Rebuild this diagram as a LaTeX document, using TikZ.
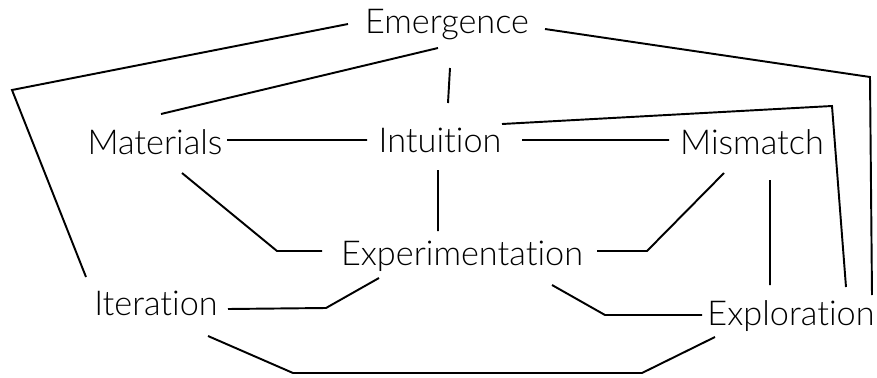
\documentclass[tikz,border=0pt]{standalone}
\usepackage{fontspec}
\setmainfont{Lato Light}[Ligatures=NoCommon]
\usepackage{tikz}

\begin{document}
\begin{tikzpicture}
    \tikzstyle{edge} = [line width=1.1pt, draw=black, line join=miter]
    \tikzstyle{word} = [
      anchor=base,
      inner sep=0pt,
      font=\fontsize{19.5}{23}\selectfont,
    ]

    \coordinate (topAnchor) at (0,0);
    \useasboundingbox (topAnchor) rectangle ([xshift=17.54cm, yshift=-7.56cm] topAnchor);

    % concepts
    {
      \node[word] (emergence) at ([xshift=8.94cm, yshift=-0.67cm] topAnchor) {Emergence};

      \node[word] (materials) at ([xshift=3.10cm, yshift=-3.08cm] topAnchor) {Materials};
      \node[word] (intuition) at ([xshift=8.80cm, yshift=-3.04cm] topAnchor) {Intuition};
      \node[word] (mismatch) at ([xshift=15.04cm, yshift=-3.08cm] topAnchor) {Mismatch};

      \node[word] (experimentation) at ([xshift=9.24cm, yshift=-5.30cm] topAnchor) {Experimentation};

      \node[word] (iteration) at ([xshift=3.12cm, yshift=-6.30cm] topAnchor) {Iteration};
      \node[word] (exploration) at ([xshift=15.82cm, yshift=-6.50cm] topAnchor) {Exploration};
    }

    % corners of the bent links
    {
      \coordinate (leftCorner) at ([xshift=0.24cm, yshift=-1.80cm] topAnchor);
      \coordinate (rightCorner) at ([xshift=17.40cm, yshift=-1.54cm] topAnchor);
      \coordinate (innerCorner) at ([xshift=16.64cm, yshift=-2.12cm] topAnchor);

      \coordinate (matBend) at ([xshift=5.54cm, yshift=-5.02cm] topAnchor);
      \coordinate (misBend) at ([xshift=12.94cm, yshift=-5.02cm] topAnchor);
      \coordinate (iterBend) at ([xshift=6.52cm, yshift=-6.16cm] topAnchor);
      \coordinate (explBend) at ([xshift=12.10cm, yshift=-6.30cm] topAnchor);

      \coordinate (bottomLeft) at ([xshift=5.86cm, yshift=-7.46cm] topAnchor);
      \coordinate (bottomRight) at ([xshift=12.84cm, yshift=-7.46cm] topAnchor);
    }

    % links from emergence
    {
      \draw[edge] ([xshift=-1.98cm, yshift=0.19cm] emergence.base) -- (leftCorner) -- ([xshift=-1.40cm, yshift=0.76cm] iteration.base);
      \draw[edge] ([xshift=-0.18cm, yshift=-0.29cm] emergence.base) -- ([xshift=0.12cm, yshift=0.80cm] materials.base);
      \draw[edge] ([xshift=0.06cm, yshift=-0.69cm] emergence.base) -- ([xshift=0.16cm, yshift=0.98cm] intuition.base);
      \draw[edge] ([xshift=1.96cm, yshift=0.09cm] emergence.base) -- (rightCorner) -- ([xshift=1.62cm, yshift=0.60cm] exploration.base);
    }

    % middle row
    {
      \draw[edge] ([xshift=1.44cm, yshift=0.28cm] materials.base) -- ([xshift=-1.46cm, yshift=0.24cm] intuition.base);
      \draw[edge] ([xshift=1.64cm, yshift=0.24cm] intuition.base) -- ([xshift=-1.66cm, yshift=0.28cm] mismatch.base);
      \draw[edge] ([xshift=1.24cm, yshift=0.56cm] intuition.base) -- (innerCorner) -- ([xshift=1.10cm, yshift=0.76cm] exploration.base);
    }

    % into experimentation
    {
      \draw[edge] ([xshift=0.54cm, yshift=-0.38cm] materials.base) -- (matBend) -- ([xshift=-2.80cm, yshift=0.28cm] experimentation.base);
      \draw[edge] ([xshift=-0.04cm, yshift=-0.36cm] intuition.base) -- ([xshift=-0.48cm, yshift=0.68cm] experimentation.base);
      \draw[edge] ([xshift=-0.56cm, yshift=-0.38cm] mismatch.base) -- (misBend) -- ([xshift=2.70cm, yshift=0.28cm] experimentation.base);
      \draw[edge] ([xshift=0.36cm, yshift=-0.52cm] mismatch.base) -- ([xshift=-0.42cm, yshift=0.80cm] exploration.base);
    }

    % out of experimentation
    {
      \draw[edge] ([xshift=-1.66cm, yshift=-0.26cm] experimentation.base) -- (iterBend) -- ([xshift=1.44cm, yshift=0.12cm] iteration.base);
      \draw[edge] ([xshift=1.80cm, yshift=-0.40cm] experimentation.base) -- (explBend) -- ([xshift=-1.78cm, yshift=0.20cm] exploration.base);
      \draw[edge] ([xshift=1.04cm, yshift=-0.42cm] iteration.base) -- (bottomLeft) -- (bottomRight) -- ([xshift=-1.52cm, yshift=-0.24cm] exploration.base);
    }
\end{tikzpicture}
\end{document}
